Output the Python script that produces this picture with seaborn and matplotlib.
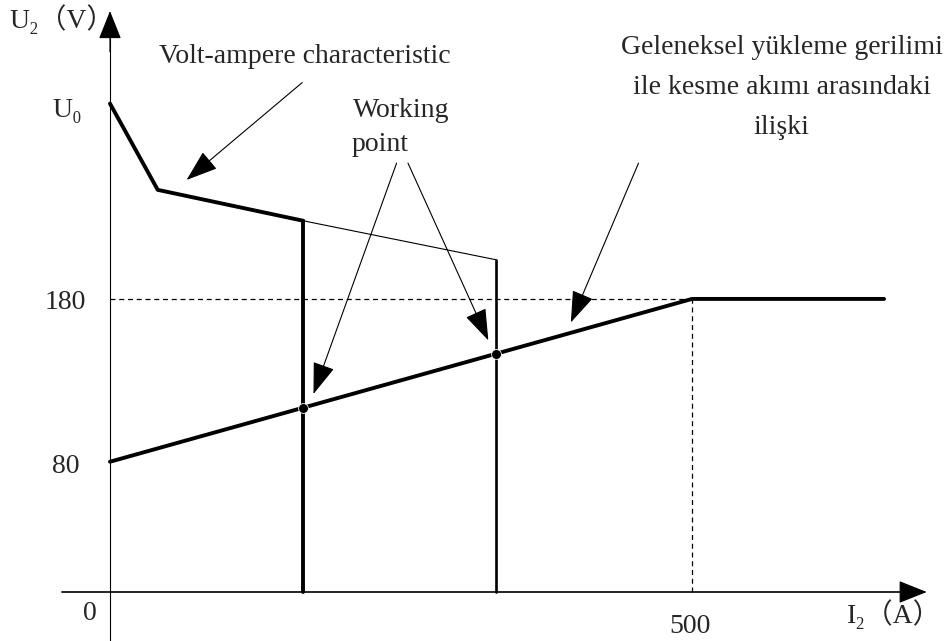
import matplotlib
matplotlib.use("Agg")
import matplotlib.pyplot as plt
import pandas as pd
import seaborn as sns

# volt-ampere characteristic (current A, voltage V)
va_current = [0, 41, 166]
va_voltage = [300, 247, 228]
# dropped-off continuation to the second working current
va_thin_current = [166, 332]
va_thin_voltage = [228, 204]
# conventional load voltage vs cutting current
load_current = [0, 500, 665]
load_voltage = [80, 180, 180]
# working currents (vertical lines) and the points on the load line
work_current = [166, 332]
work_top = [228, 204]
work_voltage = [113, 146]

sns.set_theme(style="white")
plt.rcParams["font.family"] = ["Liberation Serif", "DejaVu Serif", "Noto Sans CJK SC"]

fig = plt.figure(figsize=(9.49, 6.41), dpi=100)
ax = fig.add_axes([0, 0, 1, 1])
ax.set_xlim(-94.5, 720.8)
ax.set_ylim(-30.1, 363.6)
ax.axis("off")

va = pd.DataFrame({"I": va_current, "U": va_voltage})
sns.lineplot(data=va, x="I", y="U", sort=False, color="black", lw=2.8, ax=ax)
thin = pd.DataFrame({"I": va_thin_current, "U": va_thin_voltage})
sns.lineplot(data=thin, x="I", y="U", sort=False, color="black", lw=0.8, ax=ax)
load = pd.DataFrame({"I": load_current, "U": load_voltage})
sns.lineplot(data=load, x="I", y="U", sort=False, color="black", lw=2.8, ax=ax)

# vertical lines at working currents
ax.plot([work_current[0]] * 2, [0, work_top[0]], color="black", lw=2.8)
ax.plot([work_current[1]] * 2, [0, work_top[1]], color="black", lw=1.9)
pts = pd.DataFrame({"I": work_current, "U": work_voltage})
sns.scatterplot(data=pts, x="I", y="U", color="black", s=50, ax=ax, zorder=5)

# dashed guides
ax.plot([0, 500], [180, 180], color="black", lw=0.9, ls=(0, (4, 3)))
ax.plot([500, 500], [0, 180], color="black", lw=0.9, ls=(0, (4, 3)))

# axes with arrows
axis_head = dict(arrowstyle="-|>,head_length=0.9,head_width=0.36",
                 mutation_scale=20, color="black", lw=0.8)
ax.plot([0, 0], [-30.1, 340], color="black", lw=0.8)
ax.plot([-41, 690], [0, 0], color="black", lw=1.2)
ax.annotate("", xy=(0, 358.5), xytext=(0, 330), arrowprops=axis_head)
ax.annotate("", xy=(704, 0), xytext=(680, 0), arrowprops=axis_head)

fs = 20
ax.text(-41, 352, "U₂（V）", fontsize=fs, ha="center", va="center")
ax.text(-37, 296, "U₀", fontsize=fs, ha="center", va="center")
ax.text(-38, 178, "180", fontsize=fs, ha="center", va="center")
ax.text(-38, 77, "80", fontsize=fs, ha="center", va="center")
ax.text(-17, -13, "0", fontsize=fs, ha="center", va="center")
ax.text(498, -21, "500", fontsize=fs, ha="center", va="center")
ax.text(714, -13.5, "I₂（A）", fontsize=fs, ha="right", va="center")

ax.text(167, 329, "Volt-ampere characteristic", fontsize=fs, ha="center", va="center")
ax.text(250, 296, "Working", fontsize=fs, ha="center", va="center")
ax.text(232, 275, "point", fontsize=fs, ha="center", va="center")
ax.text(577, 310, "Geleneksel yükleme gerilimi\nile kesme akımı arasındaki\nilişki",
        fontsize=fs, ha="center", va="center", linespacing=1.8)

arrow = dict(arrowstyle="-|>,head_length=1.0,head_width=0.35",
             mutation_scale=20, color="black", lw=0.8)
ax.annotate("", xy=(64, 252), xytext=(167, 314), arrowprops=arrow)
ax.annotate("", xy=(174, 120), xytext=(247, 265), arrowprops=arrow)
ax.annotate("", xy=(326, 153), xytext=(255, 265), arrowprops=arrow)
ax.annotate("", xy=(395, 164), xytext=(455, 265), arrowprops=arrow)

fig.savefig("out.png", dpi=100)
